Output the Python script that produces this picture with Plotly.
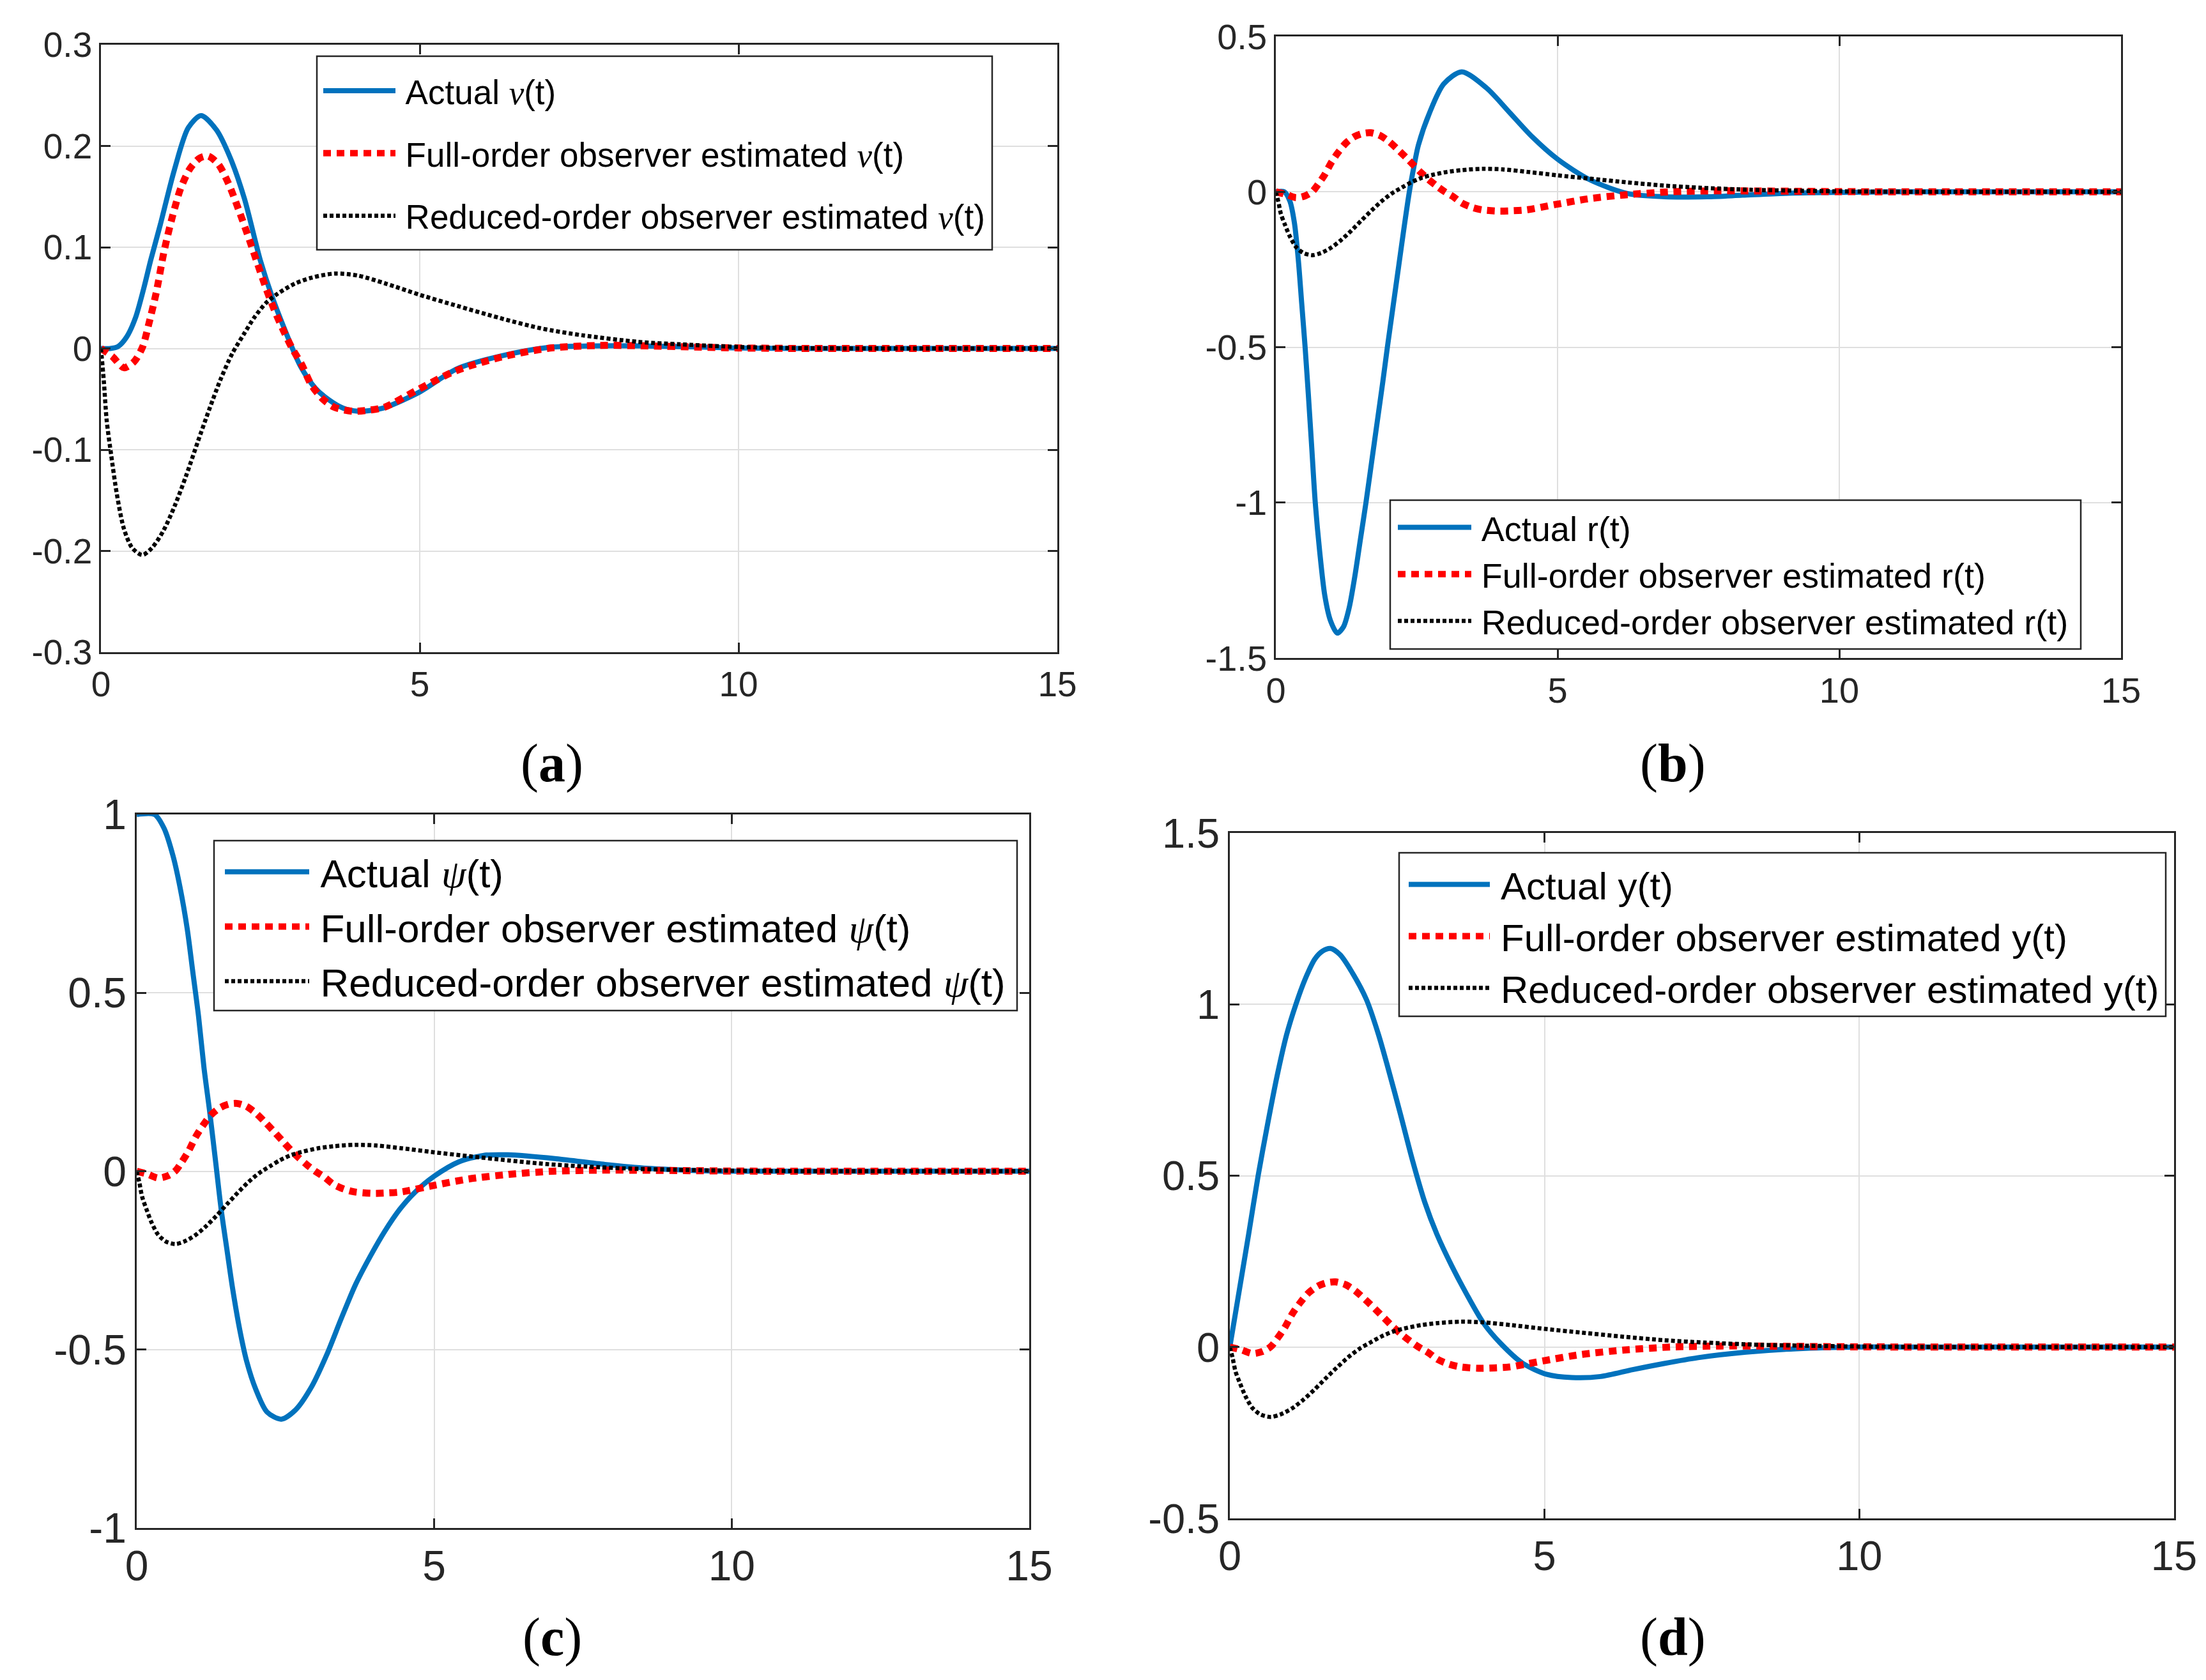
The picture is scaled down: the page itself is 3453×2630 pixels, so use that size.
import plotly.graph_objects as go

# ---------------- data ----------------
# Panel (a): actual nu(t)
T_A = [0, 0.15, 0.27, 0.4, 0.54, 0.67, 0.78, 0.93, 1.15, 1.37, 1.57, 1.81, 2.03, 2.25, 2.5,
       2.68, 2.9, 3.13, 3.36, 3.58, 3.8, 4.03, 4.25, 4.47, 5.0, 5.59, 6.26, 7.01, 7.7, 8.5,
       9.3, 10, 11, 12, 13, 14, 15]
ACT_A = [0, 0.0, 0.002, 0.011, 0.030, 0.059, 0.087, 0.122, 0.176, 0.218, 0.230, 0.216, 0.188,
         0.148, 0.087, 0.052, 0.016, -0.0175, -0.039, -0.051, -0.059, -0.062, -0.061, -0.058,
         -0.043, -0.020, -0.0076, 0.001, 0.0025, 0.0025, 0.0015, 0.0005, 0, 0, 0, 0, 0]

# Panel (b): actual r(t)
T_B = [0, 0.15, 0.25, 0.33, 0.40, 0.46, 0.52, 0.58, 0.64, 0.70, 0.78, 0.87, 0.97, 1.09, 1.2,
       1.3, 1.4, 1.5, 1.6, 1.7, 1.8, 1.9, 1.98, 2.08, 2.18, 2.28, 2.37, 2.45, 2.53, 2.73,
       2.98, 3.30, 3.74, 4.15, 4.55, 5.0, 5.57, 6.25, 6.9, 7.65, 8.28, 9.03, 10, 11, 12, 13,
       14, 15]
ACT_B = [0, 0, -0.03, -0.10, -0.22, -0.36, -0.50, -0.66, -0.83, -1.0, -1.16, -1.30, -1.38,
         -1.42, -1.40, -1.34, -1.24, -1.12, -1.0, -0.87, -0.74, -0.61, -0.50, -0.37, -0.24,
         -0.11, 0.0, 0.08, 0.15, 0.255, 0.347, 0.386, 0.334, 0.255, 0.177, 0.105, 0.039,
         -0.006, -0.016, -0.016, -0.011, -0.005, -0.002, 0, 0, 0, 0, 0]

# Panel (c): actual psi(t)
T_C = [0, 0.3, 0.46, 0.61, 0.73, 0.85, 0.94, 1.04, 1.13, 1.23, 1.33, 1.42, 1.52, 1.61, 1.73,
       1.85, 2.0, 2.19, 2.43, 2.67, 2.94, 3.19, 3.44, 3.68, 3.93, 4.17, 4.42, 4.67, 5.0, 5.41,
       5.82, 6.23, 7.05, 7.87, 8.6, 9.38, 10, 11, 12, 13, 14, 15]
ACT_C = [1, 1, 0.961, 0.884, 0.794, 0.678, 0.562, 0.433, 0.291, 0.162, 0.021, -0.108, -0.224,
         -0.327, -0.443, -0.534, -0.611, -0.675, -0.695, -0.669, -0.604, -0.516, -0.412,
         -0.317, -0.237, -0.168, -0.107, -0.060, -0.014, 0.026, 0.044, 0.046, 0.035, 0.019,
         0.008, 0.002, 0, 0, 0, 0, 0, 0]

# Panel (d): actual y(t)
T_D = [0, 0.1, 0.2, 0.3, 0.45, 0.6, 0.75, 0.9, 1.05, 1.2, 1.35, 1.47, 1.6, 1.75, 1.93, 2.17,
       2.36, 2.515, 2.71, 2.9, 3.1, 3.29, 3.525, 3.76, 4.03, 4.3, 4.65, 5.04, 5.43, 5.89, 6.4,
       6.9, 7.44, 8.2, 9.0, 10, 11, 12, 13, 14, 15]
ACT_D = [0, 0.11, 0.22, 0.33, 0.50, 0.65, 0.79, 0.91, 1.0, 1.075, 1.132, 1.155, 1.163, 1.145,
         1.097, 1.014, 0.913, 0.813, 0.68, 0.546, 0.421, 0.329, 0.237, 0.155, 0.07, 0.011,
         -0.047, -0.08, -0.089, -0.086, -0.066, -0.048, -0.031, -0.015, -0.005, 0, 0, 0, 0,
         0, 0]

# Full-order observer estimate (same curve in all four panels)
T_FULL = [0, 0.18, 0.36, 0.52, 0.65, 0.75, 0.87, 0.99, 1.12, 1.25, 1.4, 1.55, 1.68, 1.84, 2.0,
          2.16, 2.33, 2.46, 2.58, 2.72, 2.86, 3.0, 3.15, 3.3, 3.48, 3.66, 3.95, 4.2, 4.45,
          4.96, 5.57, 6.25, 7.0, 7.8, 8.6, 9.3, 10, 11, 12, 13, 14, 15]
EST_FULL = [0, -0.008, -0.019, -0.013, 0.001, 0.024, 0.056, 0.096, 0.13, 0.158, 0.178, 0.188,
            0.190, 0.182, 0.163, 0.137, 0.107, 0.083, 0.061, 0.038, 0.018, 0.0, -0.016,
            -0.036, -0.050, -0.058, -0.062, -0.061, -0.058, -0.041, -0.022, -0.009, 0.0,
            0.003, 0.0025, 0.0015, 0.0005, 0, 0, 0, 0, 0]

# Reduced-order observer estimate (same curve in all four panels)
T_RED = [0, 0.045, 0.09, 0.16, 0.25, 0.36, 0.49, 0.65, 0.8, 0.98, 1.16, 1.34, 1.52, 1.7, 1.88,
         2.06, 2.24, 2.41, 2.59, 2.77, 3.04, 3.31, 3.67, 4.03, 4.47, 5.0, 5.59, 6.26, 6.89,
         7.55, 8.43, 9.1, 10, 11, 12, 13, 14, 15]
EST_RED = [0, -0.032, -0.071, -0.105, -0.144, -0.178, -0.197, -0.204, -0.197, -0.180, -0.155,
           -0.125, -0.092, -0.060, -0.030, -0.005, 0.014, 0.031, 0.045, 0.054, 0.064, 0.070,
           0.074, 0.072, 0.064, 0.053, 0.042, 0.030, 0.020, 0.013, 0.0065, 0.004, 0.0015,
           0.0003, 0, 0, 0, 0]

X_TICKS = [0, 5, 10, 15]
X_TICKTEXT = ["0", "5", "10", "15"]
Y_TICKS_A = [-0.3, -0.2, -0.1, 0, 0.1, 0.2, 0.3]
Y_TEXT_A = ["-0.3", "-0.2", "-0.1", "0", "0.1", "0.2", "0.3"]
Y_TICKS_B = [-1.5, -1, -0.5, 0, 0.5]
Y_TEXT_B = ["-1.5", "-1", "-0.5", "0", "0.5"]
Y_TICKS_C = [-1, -0.5, 0, 0.5, 1]
Y_TEXT_C = ["-1", "-0.5", "0", "0.5", "1"]
Y_TICKS_D = [-0.5, 0, 0.5, 1, 1.5]
Y_TEXT_D = ["-0.5", "0", "0.5", "1", "1.5"]

PANEL_LABELS = ["a", "b", "c", "d"]

# ---------------- figure ----------------
W, H = 3453, 2630
BLUE = "#0072BD"
AXC = "#262626"
GRID = "#dfdfdf"
SANS = "Liberation Sans, Arial, sans-serif"
SERIF = "Liberation Serif, Times New Roman, serif"
SP = "\u2009"


def greek(ch):
    return "<span style=\"font-family:'Liberation Serif'\"><i>%s</i></span>" % ch


panels = [
    dict(t=T_A, v=ACT_A, sym=greek("ν"), yr=[-0.3, 0.3], yt=Y_TICKS_A, ytt=Y_TEXT_A,
         dx=[150, 1647], dy=[62, 1013], tick=55, leg=53, legpos=(493, 93), gap=26,
         iw=113, box=(488, 80, 1545, 383), lab=(856, 1187)),
    dict(t=T_B, v=ACT_B, sym="r", yr=[-1.5, 0.5], yt=Y_TICKS_B, ytt=Y_TEXT_B,
         dx=[1989, 3312], dy=[49, 1022], tick=56, leg=54, legpos=(2175, 776), gap=0,
         iw=115, box=(2168, 775, 3249, 1008), lab=(2610, 1187)),
    dict(t=T_C, v=ACT_C, sym=greek("ψ"), yr=[-1, 1], yt=Y_TICKS_C, ytt=Y_TEXT_C,
         dx=[206, 1603], dy=[1267, 2384], tick=66, leg=62, legpos=(339, 1310), gap=2,
         iw=132, box=(327, 1308, 1584, 1574), lab=(856, 2555)),
    dict(t=T_D, v=ACT_D, sym="y", yr=[-0.5, 1.5], yt=Y_TICKS_D, ytt=Y_TEXT_D,
         dx=[1917, 3395], dy=[1296, 2369], tick=65, leg=60, legpos=(2192, 1331), gap=0,
         iw=127, box=(2182, 1327, 3382, 1583), lab=(2610, 2555)),
]

fig = go.Figure()
layout = dict(width=W, height=H, margin=dict(l=0, r=0, t=0, b=0, autoexpand=False),
              paper_bgcolor="white", plot_bgcolor="white", showlegend=True,
              annotations=[], shapes=[])

for i, p in enumerate(panels):
    n = "" if i == 0 else str(i + 1)
    xa, ya = "x" + n, "y" + n
    lg = "legend" + n
    names = [SP + "Actual %s(t)" % p["sym"],
             SP + "Full-order observer estimated %s(t)" % p["sym"],
             SP + "Reduced-order observer estimated %s(t)" % p["sym"]]
    fig.add_trace(go.Scatter(x=p["t"], y=p["v"], mode="lines", name=names[0],
                             line=dict(color=BLUE, width=8, shape="spline", smoothing=0.8),
                             xaxis=xa, yaxis=ya, legend=lg, legendgroup="g1" + n))
    fig.add_trace(go.Scatter(x=T_FULL, y=EST_FULL, mode="lines", name=names[1],
                             line=dict(color="#ff0000", width=11, dash="12px,9px",
                                       shape="spline", smoothing=0.8),
                             xaxis=xa, yaxis=ya, legend=lg, legendgroup="g2" + n))
    fig.add_trace(go.Scatter(x=T_RED, y=EST_RED, mode="lines", name=names[2],
                             line=dict(color="black", width=6.5, dash="6px,4px",
                                       shape="spline", smoothing=0.8),
                             xaxis=xa, yaxis=ya, legend=lg, legendgroup="g3" + n))

    common = dict(showline=True, linecolor=AXC, linewidth=2.5, mirror="ticks",
                  ticks="inside", ticklen=15, tickwidth=2.5, tickcolor=AXC,
                  showgrid=True, gridcolor=GRID, gridwidth=2, zeroline=False,
                  automargin=False,
                  tickfont=dict(family=SANS, size=p["tick"], color=AXC))
    layout["xaxis" + n] = dict(domain=[p["dx"][0] / W, p["dx"][1] / W], range=[0, 15],
                               tickvals=X_TICKS, ticktext=X_TICKTEXT, anchor=ya, **common)
    layout["yaxis" + n] = dict(domain=[1 - p["dy"][1] / H, 1 - p["dy"][0] / H],
                               range=p["yr"], tickvals=p["yt"], ticktext=p["ytt"],
                               anchor=xa, **common)
    layout[lg] = dict(x=p["legpos"][0] / W, y=1 - p["legpos"][1] / H, xanchor="left",
                      yanchor="top", bgcolor="rgba(0,0,0,0)", borderwidth=0,
                      font=dict(family=SANS, size=p["leg"], color="black"),
                      itemwidth=p["iw"], tracegroupgap=p["gap"], traceorder="grouped")
    bx0, by0, bx1, by1 = p["box"]
    layout["shapes"].append(dict(type="rect", xref="paper", yref="paper", layer="above",
                                 x0=bx0 / W, x1=bx1 / W, y0=1 - by1 / H, y1=1 - by0 / H,
                                 fillcolor="white", line=dict(color=AXC, width=2.5)))
    layout["annotations"].append(dict(
        text="(<b>%s</b>)" % PANEL_LABELS[i], xref="paper", yref="paper",
        x=p["lab"][0] / W, y=1 - p["lab"][1] / H,
        xanchor="center", yanchor="middle", showarrow=False,
        font=dict(family=SERIF, size=84, color="black")))

fig.update_layout(**layout)
fig.write_html("out.html")
